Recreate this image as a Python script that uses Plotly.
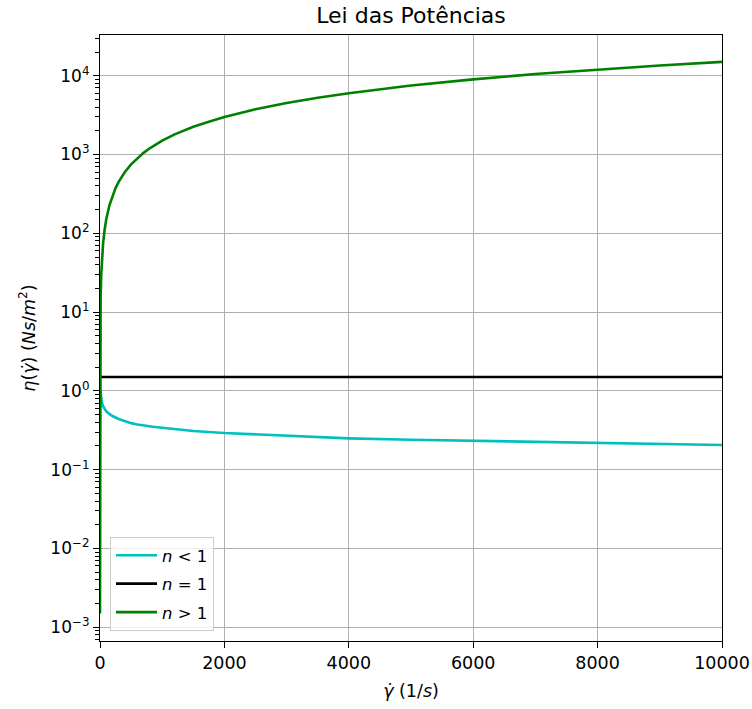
import plotly.graph_objects as go

# ---- data ----
shear_green = [0.001, 2, 5, 10, 20, 30, 50, 75, 100, 150, 200, 250, 300, 400, 500,
               600, 700, 800, 900, 1000, 1200, 1500, 1750, 2000, 2500, 3000, 3500, 4000,
               5000, 6000, 7000, 8000, 9000, 10000]
eta_green = [0.0015, 3, 7.5, 15, 30, 45, 75, 112, 150, 225, 300, 375, 450, 600, 750,
             900, 1050, 1200, 1350, 1500, 1800, 2250, 2600, 3000, 3750, 4500, 5250, 6000,
             7500, 9000, 10500, 12000, 13500, 15000]

shear_cyan = [7, 15, 30, 50, 75, 100, 150, 200, 300, 400, 500, 600, 700, 850, 1000,
              1250, 1500, 2000, 2500, 3000, 4000, 5000, 6000, 7000, 8000, 9000, 10000]
eta_cyan = [1.0, 0.83, 0.72, 0.64, 0.59, 0.55, 0.51, 0.48, 0.44, 0.41, 0.39, 0.375,
            0.362, 0.35, 0.34, 0.324, 0.31, 0.292, 0.28, 0.27, 0.25, 0.24, 0.232, 0.224,
            0.218, 0.212, 0.206]

shear_black = [0, 10000]
eta_black = [1.5, 1.5]

legend_names = ["<i>n</i> &lt; 1", "<i>n</i> = 1", "<i>n</i> &gt; 1"]
ytick_vals = [1e-3, 1e-2, 1e-1, 1e0, 1e1, 1e2, 1e3, 1e4]
ytick_text = ["10<sup>−3</sup>", "10<sup>−2</sup>", "10<sup>−1</sup>", "10<sup>0</sup>",
              "10<sup>1</sup>", "10<sup>2</sup>", "10<sup>3</sup>", "10<sup>4</sup>"]
xtick_vals = [0, 2000, 4000, 6000, 8000, 10000]

FONT = "DejaVu Sans"

fig = go.Figure()
fig.add_trace(go.Scatter(x=shear_cyan, y=eta_cyan, mode="lines", name=legend_names[0],
                         legendgroup="a", line=dict(color="#00bfbf", width=2.6)))
fig.add_trace(go.Scatter(x=shear_black, y=eta_black, mode="lines", name=legend_names[1],
                         legendgroup="b", line=dict(color="#000000", width=2.6)))
fig.add_trace(go.Scatter(x=shear_green, y=eta_green, mode="lines", name=legend_names[2],
                         legendgroup="c", line=dict(color="#008000", width=2.6)))

fig.update_layout(
    width=752, height=709,
    margin=dict(l=100, r=30, t=35, b=68),
    paper_bgcolor="white", plot_bgcolor="white",
    font=dict(family=FONT, size=17, color="black"),
    title=dict(text="Lei das Potências", x=(100 + 722) / 2 / 752, xanchor="center",
               y=1 - 15.5 / 709, yanchor="middle", yref="container",
               font=dict(size=22, family=FONT)),
    showlegend=True,
    legend=dict(x=(110 - 100) / 622, y=(641 - 631) / 606, xanchor="left", yanchor="bottom",
                bgcolor="rgba(255,255,255,0.8)", bordercolor="#cccccc", borderwidth=1,
                font=dict(size=16.5, family=FONT), tracegroupgap=4, itemwidth=41),
)

fig.update_xaxes(
    range=[0, 10000], tickvals=xtick_vals, ticktext=[str(v) for v in xtick_vals],
    showgrid=True, gridcolor="#b0b0b0", gridwidth=1.2, automargin=False,
    showline=True, linecolor="black", linewidth=1.2, mirror=True,
    ticks="outside", ticklen=6, tickcolor="black", zeroline=False,
    tickfont=dict(size=17.5),
    title=dict(text="<i>γ̇</i> (1/<i>s</i>)", font=dict(size=17.5), standoff=12),
)
fig.update_yaxes(
    type="log", range=[-3.174, 4.517], tickvals=ytick_vals, ticktext=ytick_text,
    showgrid=True, gridcolor="#b0b0b0", gridwidth=1.2, automargin=False,
    showline=True, linecolor="black", linewidth=1.2, mirror=True,
    ticks="outside", ticklen=6, tickcolor="black", zeroline=False,
    tickfont=dict(size=17),
    minor=dict(ticks="outside", ticklen=3.5, tickcolor="black", dtick="D1", showgrid=False),
    title=dict(text="<i>η</i>(<i>γ̇</i>) (<i>Ns</i>/<i>m</i><sup>2</sup>)", font=dict(size=17.5), standoff=10),
)

fig.write_html("out.html", config={"displayModeBar": False},
               post_script="document.body.style.margin='0px';")
